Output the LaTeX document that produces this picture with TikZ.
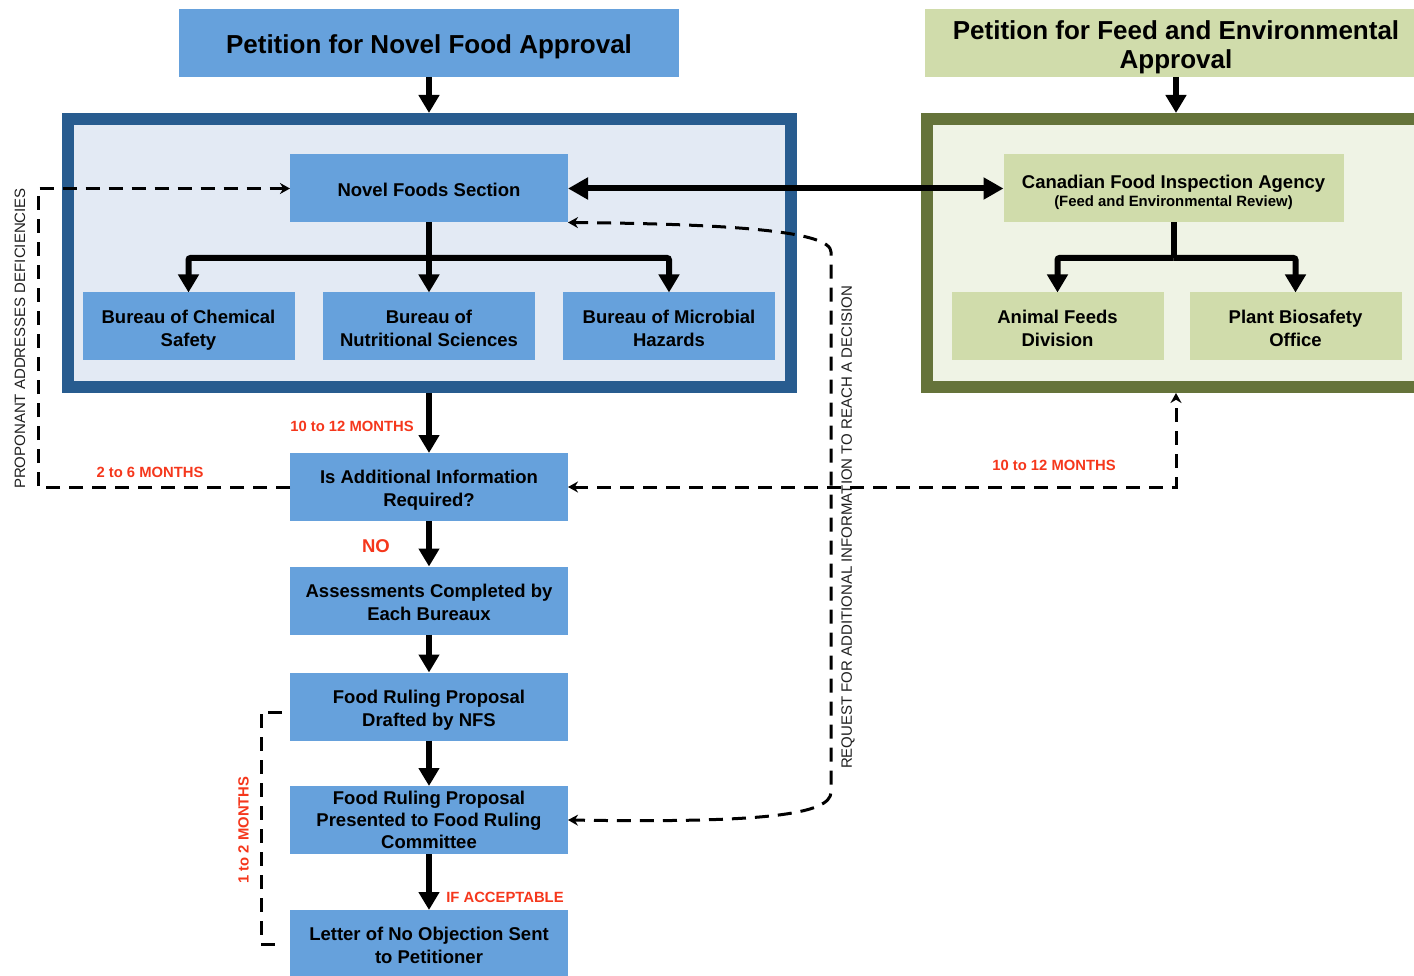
\documentclass[tikz,border=0pt]{standalone}
\usepackage{fontspec}
\setmainfont{Liberation Sans}
\usetikzlibrary{arrows.meta, positioning, calc}
\definecolor{boxblue}{HTML}{66A1DC}
\definecolor{frameblue}{HTML}{285C8F}
\definecolor{paleblue}{HTML}{E3EAF4}
\definecolor{sagegreen}{HTML}{D0DCAB}
\definecolor{olivegreen}{HTML}{65733A}
\definecolor{palegreen}{HTML}{EFF3E5}
\definecolor{notered}{HTML}{F5371C}
\newcommand{\titlestrut}{\rule{0pt}{28pt}}
\newcommand{\boxstrut}{\rule{0pt}{21pt}}

\tikzset{
  titlebox/.style={inner sep=0pt, outer sep=0pt, minimum height=68pt, align=center, font=\fontsize{26}{29}\selectfont\bfseries,
    execute at end node={\rule[-6pt]{0pt}{0pt}}},
  unitbox/.style={inner sep=0pt, outer sep=0pt, minimum width=278pt, minimum height=68pt, align=center, font=\fontsize{18.5}{23}\selectfont\bfseries,
    execute at end node={\rule[-4.8pt]{0pt}{0pt}}},
  bureaubox/.style={unitbox, minimum width=212pt},
  hcbox/.style={fill=boxblue},
  cfbox/.style={fill=sagegreen},
  groupframe/.style={line width=12pt, outer sep=6pt, inner sep=0pt, minimum height=268pt},
  thickline/.style={line width=6pt, rounded corners=2pt},
  thickarrow/.style={thickline, -{Triangle[width=20pt,length=18pt]}},
  dashline/.style={line width=3pt, dash pattern=on 14pt off 9pt},
  dasharrow/.style={dashline, -{Stealth[width=11pt,length=10pt]}},
  dualdash/.style={dashline, {Stealth[width=11pt,length=10pt]}-{Stealth[width=11pt,length=10pt]}},
  timenote/.style={text=notered, font=\fontsize{14.8}{17}\selectfont\bfseries, inner sep=0pt},
  sidenote/.style={rotate=90, text=black!88, font=\fontsize{15}{17}\selectfont, inner sep=0pt},
}

\begin{document}
\begin{tikzpicture}[x=1pt, y=-1pt]
  \useasboundingbox (0,0) rectangle (1414,976);

  % group frames
  \node[groupframe, draw=frameblue, fill=paleblue, minimum width=723pt] (hcframe) at (429,253) {};
  \node[groupframe, draw=olivegreen, fill=palegreen, minimum width=498pt] (cfframe) at (1176,253) {};

  % petitions
  \node[titlebox, hcbox, minimum width=500pt] (nfatitle) at (429,43) {\titlestrut Petition for Novel Food Approval};
  \node[titlebox, cfbox, minimum width=502pt] (fetitle) at (1176,43) {\titlestrut Petition for Feed and Environmental\\Approval};

  % health canada units
  \node[unitbox, hcbox] (nfs) at (429,188.5) {\boxstrut Novel Foods Section};
  \node[bureaubox, hcbox] (chem) at (188.5,326.5) {\boxstrut Bureau of Chemical\\Safety};
  \node[bureaubox, hcbox] (nutri) at (429,326.5) {\boxstrut Bureau of\\Nutritional Sciences};
  \node[bureaubox, hcbox] (micro) at (669,326.5) {\boxstrut Bureau of Microbial\\Hazards};

  % cfia units
  \node[unitbox, cfbox, minimum width=340pt] (cfia) at (1173.5,188.5) {\rule{0pt}{22pt}Canadian Food Inspection Agency\\[-5pt]{\fontsize{14.9}{17}\selectfont(Feed and Environmental Review)}};
  \node[bureaubox, cfbox] (feeds) at (1057.5,326.5) {\boxstrut Animal Feeds\\Division};
  \node[bureaubox, cfbox] (plant) at (1295.5,326.5) {\boxstrut Plant Biosafety\\Office};

  % review steps
  \node[unitbox, hcbox] (addinfo) at (429,487) {\boxstrut Is Additional Information\\Required?};
  \node[unitbox, hcbox] (assess) at (429,600.5) {\boxstrut Assessments Completed by\\Each Bureaux};
  \node[unitbox, hcbox] (drafted) at (429,706.5) {\boxstrut Food Ruling Proposal\\Drafted by NFS};
  \node[unitbox, hcbox, execute at end node={}] (presented) at (429,820) {\rule{0pt}{18.5pt}Food Ruling Proposal\\[-1pt]Presented to Food Ruling\\[-1pt]Committee};
  \node[unitbox, hcbox] (letter) at (429,944) {\boxstrut Letter of No Objection Sent\\to Petitioner};

  % solid flow
  \draw[thickarrow] (nfatitle.south) -- (hcframe.north);
  \draw[thickarrow] (fetitle.south) -- (cfframe.north);
  \coordinate (hcsplit) at (429,258);
  \draw[thickarrow] (nfs.south) -- (nutri.north);
  \draw[thickarrow] (hcsplit) -| (chem.north);
  \draw[thickarrow] (hcsplit) -| (micro.north);
  \draw[thickline, {Triangle[width=21pt,length=20pt]}-{Triangle[width=21pt,length=20pt]}] (nfs.east) -- (cfia.west);
  \coordinate (cfsplit) at (1173.5,258);
  \draw[thickline] (cfia.south) -- (cfsplit);
  \draw[thickarrow] (cfsplit) -| (feeds.north);
  \draw[thickarrow] (cfsplit) -| (plant.north);
  \draw[thickarrow] (hcframe.south) -- (addinfo.north);
  \draw[thickarrow] (addinfo.south) -- (assess.north);
  \draw[thickarrow] (assess.south) -- (drafted.north);
  \draw[thickarrow] (drafted.south) -- (presented.north);
  \draw[thickarrow] (presented.south) -- (letter.north);

  % dashed loops
  \draw[dasharrow] (addinfo.west) -- ++(-252,0) |- (nfs.west);
  \draw[dualdash] (addinfo.east) -| (cfframe.south);
  \draw[dualdash] (nfs.south east) .. controls (740,224) and (831,232) .. (831,252) -- (831,792) .. controls (831,815) and (760,823) .. (presented.east);
  \draw[dashline] ($(drafted.west)+(-8,5.5)$) -- ++(-21,0) |- ($(letter.west)+(-8,0)$);

  % timing notes
  \node[timenote] (hcdelay) at (352,426) {10 to 12 MONTHS};
  \node[timenote] (fixdelay) at (150,472) {2 to 6 MONTHS};
  \node[timenote] (cfdelay) at (1054,465) {10 to 12 MONTHS};
  \node[timenote, font=\fontsize{18.5}{20}\selectfont\bfseries] (nonote) at (376,546) {NO};
  \node[timenote] (oknote) at (505,897) {IF ACCEPTABLE};
  \node[timenote, rotate=90] (ruledelay) at (243.5,830) {1 to 2 MONTHS};
  \node[sidenote] (fixnote) at (20,338.5) {PROPONANT ADDRESSES DEFICIENCIES};
  \node[sidenote] (asknote) at (848,527.5) {REQUEST FOR ADDITIONAL INFORMATION TO REACH A DECISION};
\end{tikzpicture}
\end{document}
